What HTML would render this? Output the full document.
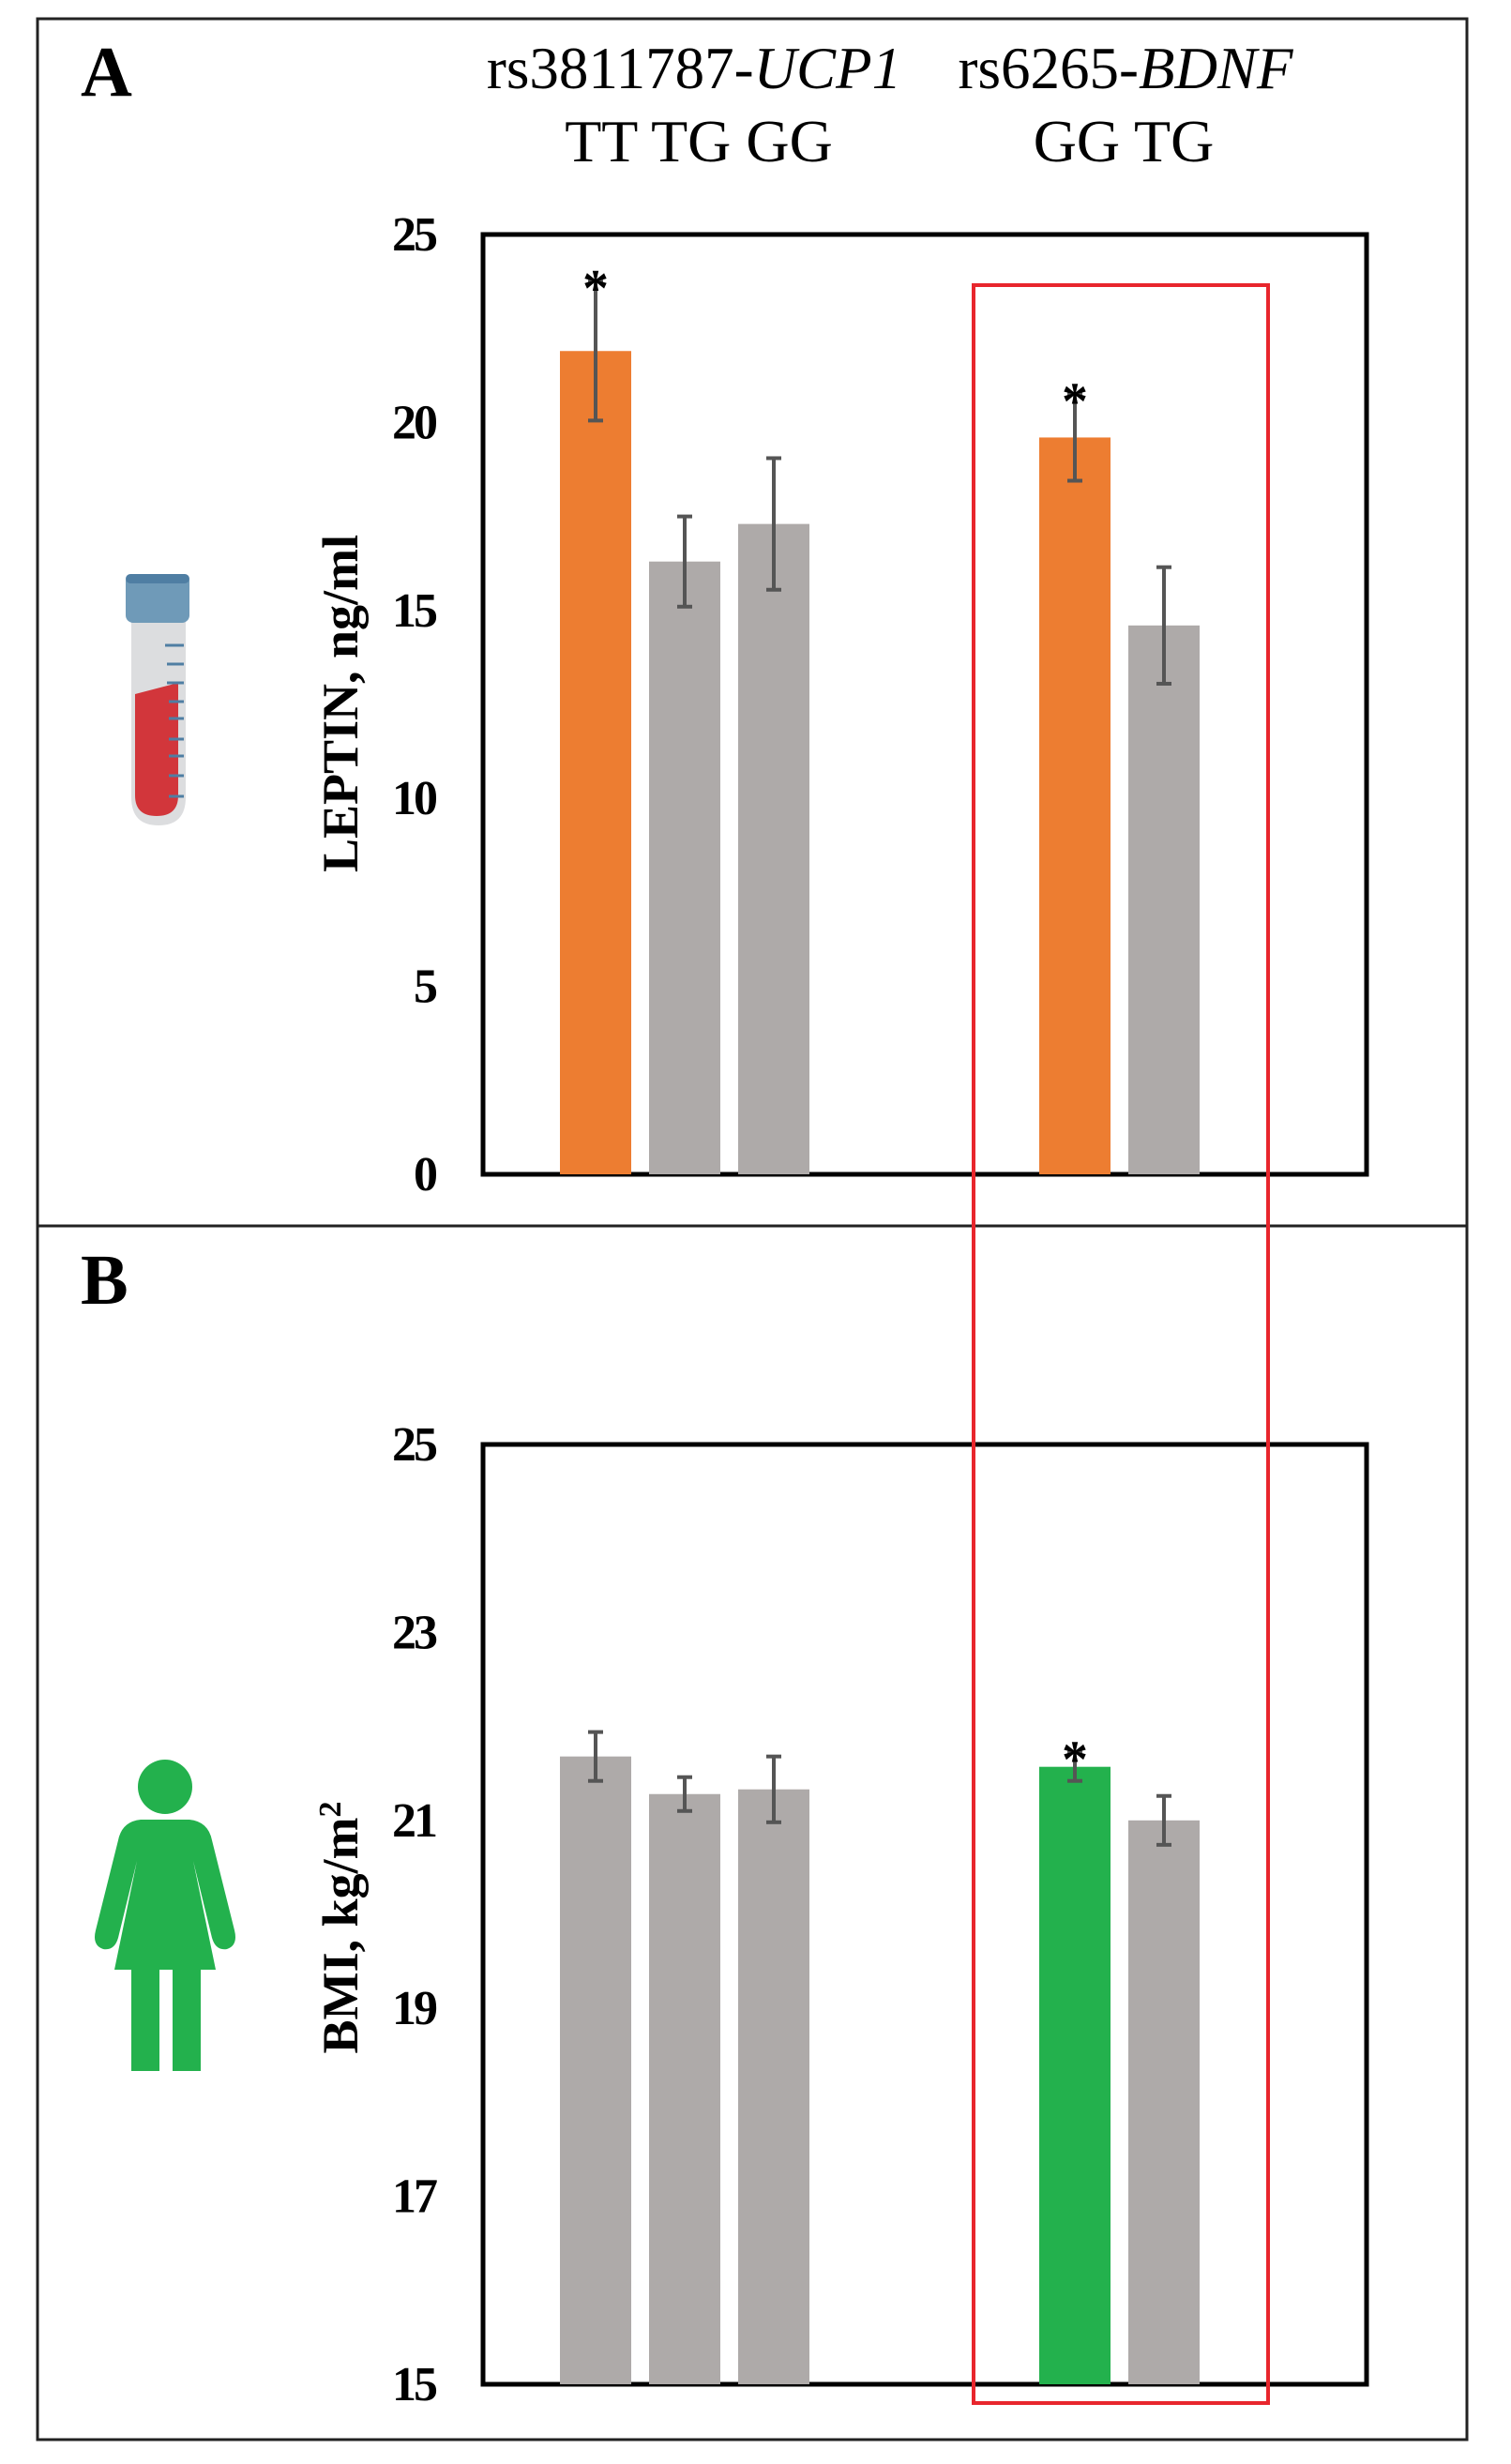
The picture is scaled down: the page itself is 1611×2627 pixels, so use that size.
<!DOCTYPE html>
<html><head><meta charset="utf-8"><style>
html,body{margin:0;padding:0;background:#fff}
svg{display:block}
text{font-family:"Liberation Serif",serif}
</style></head><body>
<svg id="fig" width="1611" height="2627" viewBox="0 0 1611 2627" xmlns="http://www.w3.org/2000/svg">
<rect x="40" y="20" width="1524" height="2581" fill="none" stroke="#222" stroke-width="3"/>
<line x1="40" y1="1307" x2="1564" y2="1307" stroke="#222" stroke-width="3"/>
<text x="86" y="102" font-size="76" font-weight="bold">A</text>
<text x="86" y="1390" font-size="76" font-weight="bold">B</text>
<text x="740" y="94" font-size="63" text-anchor="middle">rs3811787-<tspan font-style="italic">UCP1</tspan></text>
<text x="1200" y="94" font-size="63" text-anchor="middle">rs6265-<tspan font-style="italic">BDNF</tspan></text>
<text x="745" y="172" font-size="64" text-anchor="middle">TT  TG GG</text>
<text x="1198" y="172" font-size="64" text-anchor="middle">GG TG</text>
<g>
<path d="M140 660 L198 660 L198 850 Q198 880 169 880 Q140 880 140 850 Z" fill="#dcdddf"/>
<path d="M144 740 L190 728 L190 848 Q190 870 167 870 Q144 870 144 848 Z" fill="#d2363b"/>
<rect x="134" y="612" width="68" height="52" rx="8" fill="#6f9ab8"/>
<rect x="134" y="612" width="68" height="10" rx="5" fill="#4f7ea3"/>
<g stroke="#4f7ea3" stroke-width="3"><line x1="176" y1="688" x2="196" y2="688"/><line x1="178" y1="708" x2="196" y2="708"/><line x1="178" y1="728" x2="196" y2="728"/><line x1="180" y1="748" x2="196" y2="748"/><line x1="180" y1="766" x2="196" y2="766"/><line x1="180" y1="788" x2="196" y2="788"/><line x1="180" y1="806" x2="196" y2="806"/><line x1="180" y1="827" x2="196" y2="827"/><line x1="180" y1="849" x2="196" y2="849"/></g>
</g>
<g fill="#23b14d">
<circle cx="176" cy="1905" r="29"/>
<path d="M150 1940 L202 1940 Q222 1942 226 1962 L250 2058 Q254 2074 242 2078 Q230 2080 226 2066 L206 1984 L230 2100 L122 2100 L146 1984 L126 2066 Q122 2080 110 2078 Q98 2074 102 2058 L126 1962 Q130 1942 150 1940 Z"/>
<rect x="140" y="2098" width="30" height="110"/>
<rect x="184" y="2098" width="30" height="110"/>
</g>
<g id="chartA"></g>
<g id="chartB"></g>
<rect x="1038" y="304" width="314" height="2258" fill="none" stroke="#e8262d" stroke-width="4"/>
</svg>
<script>
const categories = ["UCP1 TT","UCP1 TG","UCP1 GG","BDNF GG","BDNF TG"];
const leptinValues = [21.9, 16.3, 17.3, 19.6, 14.6];
const leptinErrors = [1.85, 1.2, 1.75, 1.15, 1.55];
const leptinSig = [true, false, false, true, false];
const leptinTicks = [0, 5, 10, 15, 20, 25];
const bmiValues = [21.68, 21.28, 21.33, 21.57, 21.0];
const bmiErrors = [0.26, 0.18, 0.35, 0.15, 0.26];
const bmiSig = [false, false, false, true, false];
const bmiTicks = [15, 17, 19, 21, 23, 25];
const NS = "http://www.w3.org/2000/svg";
function mk(tag, attrs, parent){const e=document.createElementNS(NS,tag);for(const k in attrs)e.setAttribute(k,attrs[k]);parent.appendChild(e);return e;}
function xCenter(i){return 635 + i*95 + (i>=3?226:0);}
function drawChart(g, opts){
  const {top,bottom,min,max,values,errors,sig,ticks,colors,title,sup,titleY} = opts;
  const y = v => bottom - (v-min)*(bottom-top)/(max-min);
  const frame = mk("rect",{x:515,y:top,width:942,height:bottom-top,fill:"none",stroke:"#000","stroke-width":5},g);
  
  
  ticks.forEach(t=>{
    const tx = mk("text",{x:464,y:y(t)+17,"font-size":52,"font-weight":"bold","text-anchor":"end","letter-spacing":"-3"},g);
    tx.textContent = t;
    
    
  });
  values.forEach((v,i)=>{
    const cx = xCenter(i);
    const b = mk("rect",{x:cx-38,y:y(v),width:76,height:bottom-y(v),fill:colors[i]},g);
    
    
    const hi = y(v+errors[i]), lo = y(v-errors[i]);
    const eg = mk("g",{stroke:"#555","stroke-width":4},g);
    
    
    mk("line",{x1:cx,y1:hi,x2:cx,y2:lo},eg);
    mk("line",{x1:cx-8,y1:hi,x2:cx+8,y2:hi},eg);
    mk("line",{x1:cx-8,y1:lo,x2:cx+8,y2:lo},eg);
    if(sig[i]){
      const s = mk("text",{x:cx,y:hi+26,"font-size":56,"font-weight":"bold","text-anchor":"middle"},g);
      s.textContent="*";
      
      
    }
  });
  const at = mk("text",{x:0,y:0,"font-size":54,"font-weight":"bold","text-anchor":"middle",transform:"translate(381,"+titleY+") rotate(-90)"},g);
  at.textContent = title;
  if(sup){const sp=mk("tspan",{"baseline-shift":"super","font-size":34},at);sp.textContent=sup;}
  
  
}
const grey="#aeaaa9";
drawChart(document.getElementById("chartA"),{top:250,bottom:1252,min:0,max:25,values:leptinValues,errors:leptinErrors,sig:leptinSig,ticks:leptinTicks,colors:["#ed7d31",grey,grey,"#ed7d31",grey],title:"LEPTIN, ng/ml",titleY:750});
drawChart(document.getElementById("chartB"),{top:1540,bottom:2542,min:15,max:25,values:bmiValues,errors:bmiErrors,sig:bmiSig,ticks:bmiTicks,colors:[grey,grey,grey,"#23b14d",grey],title:"BMI, kg/m",sup:"2",titleY:2055});
</script>
</body></html>
